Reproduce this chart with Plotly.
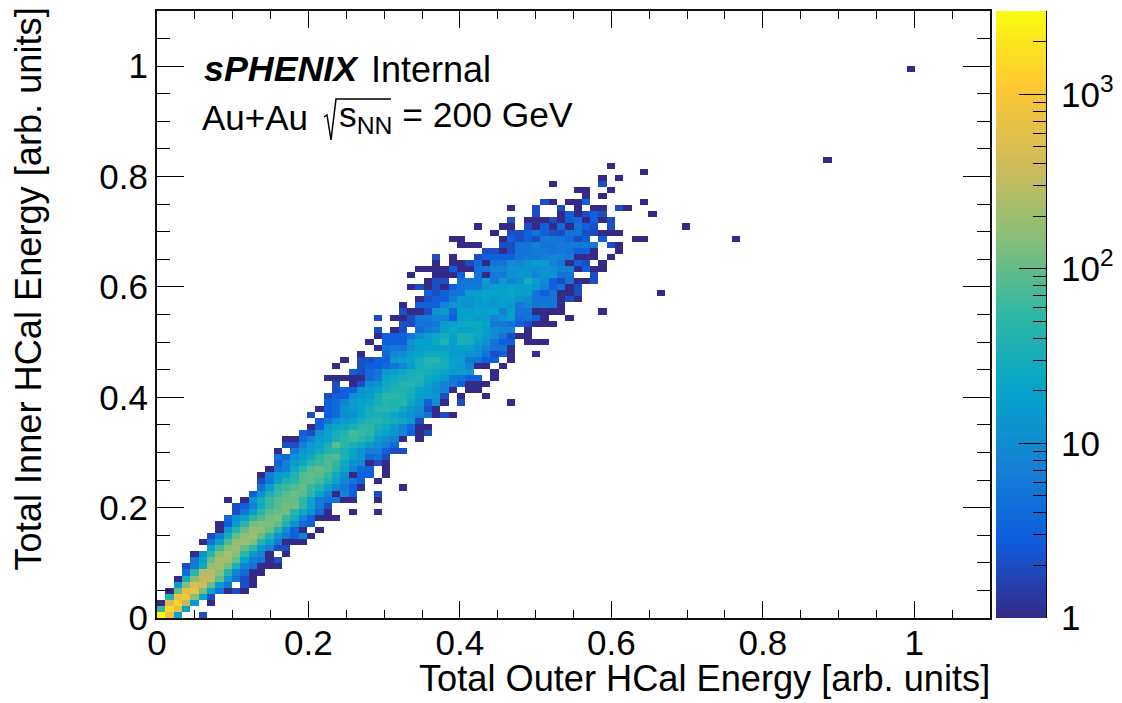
import math
import numpy as np
import plotly.graph_objects as go

# 100 x 100 bins on [0, 1.1] x [0, 1.1]
n_bins = 100
axis_max = 1.1
count_max = 3000

# y-bin index -> (first x-bin index, counts in consecutive x-bins; 0 = empty)
row_cells = {
 0: (0, [3000,700,20,0,0,2]),
 1: (0, [60,1500,600,18]),
 2: (0, [1,500,1300,300,15,0,1]),
 3: (1, [40,800,900,150,20,2]),
 4: (1, [1,100,600,700,120,20,5,1,2,1]),
 5: (2, [15,150,500,400,100,15,5,0,2,1]),
 6: (2, [1,30,150,350,300,100,15,5,2,1]),
 7: (3, [4,50,250,300,150,40,8,4,1,1]),
 8: (3, [2,6,25,170,220,120,35,7,5,1,1,1]),
 9: (4, [5,20,100,220,200,100,20,7,5,1,2]),
 10: (4, [1,12,50,150,250,150,50,15,8,1,0,1]),
 11: (6, [20,70,150,200,100,50,15,7,2,2]),
 12: (5, [1,5,20,80,170,200,130,45,20,6,1,1,1]),
 13: (6, [2,6,30,100,170,200,100,40,12,6,3,7,1]),
 14: (7, [1,14,40,100,170,170,110,40,12,3,1,0,1]),
 15: (7, [1,3,15,50,120,130,130,100,40,12,4,3]),
 16: (8, [4,12,20,50,80,120,130,60,30,8,3,1,1,1]),
 17: (9, [2,5,15,50,90,110,120,50,25,12,4,1,0,0,1,0,0,1]),
 18: (9, [2,3,7,25,60,90,120,110,50,20,6,2]),
 19: (8, [1,0,1,12,30,60,90,100,100,55,20,6,5,5,1,1,0,0,1]),
 20: (11, [3,12,35,60,90,110,90,50,20,8,1,8,3,0,0,2]),
 21: (12, [5,15,50,60,80,100,60,40,20,8,6,3,1,0,0,0,0,1]),
 22: (12, [2,6,18,40,50,85,90,70,40,20,8,5,3,0,1]),
 23: (12, [1,7,15,20,40,85,100,90,60,25,12,1,3,3,0,1]),
 24: (13, [1,5,7,25,50,85,100,80,50,20,8,4,3,0,1]),
 25: (14, [3,7,15,25,45,60,80,60,25,12,10,1,2,1]),
 26: (14, [5,4,12,18,25,50,70,80,40,20,14,4,5,2]),
 27: (14, [1,0,6,14,18,25,40,50,35,22,12,7,7,3,2,2]),
 28: (15, [2,2,7,15,20,35,90,50,35,25,15,10,7,4]),
 29: (15, [1,1,4,8,15,20,35,50,60,50,35,15,10,7,1,0,1]),
 30: (17, [3,2,12,20,30,40,70,60,50,25,20,12,8,3,1,2]),
 31: (18, [1,3,15,22,25,35,50,50,35,25,15,7,4,1,1]),
 32: (19, [3,5,10,15,20,30,40,45,35,30,25,15,2]),
 33: (18, [2,0,3,4,10,12,20,30,35,30,22,15,10,8,5,1,2,1]),
 34: (19, [1,3,4,12,15,20,30,45,45,40,25,14,10,2,1]),
 35: (20, [3,4,8,15,20,22,30,45,40,45,25,14,3,10,1,0,2,0,0,0,0,0,1]),
 36: (20, [2,3,3,10,14,18,30,50,50,40,30,18,15,14,2,0,1,0,0,1]),
 37: (21, [2,3,3,12,15,20,30,40,40,35,20,15,10,8,1,0,1,1]),
 38: (21, [2,0,1,2,10,12,25,30,45,45,35,20,12,8,6,3,1,1,1]),
 39: (20, [1,1,1,1,1,4,6,20,25,30,35,40,25,20,15,6,5,3,3,0,1]),
 40: (23, [3,2,4,5,15,18,25,30,35,30,25,20,18,18,14,0,0,1]),
 41: (21, [1,0,0,2,3,3,4,5,8,15,30,40,35,30,20,15,8,1,1,0,1]),
 42: (22, [1,0,2,2,3,3,14,18,20,30,45,45,30,20,18,6,5,3,3,0,1]),
 43: (24, [1,0,0,4,8,10,18,20,25,25,25,15,15,12,10,5,2,3,1,0,0,1]),
 44: (26, [1,5,6,5,10,18,20,18,18,15,18,18,12,7,5,5,1]),
 45: (25, [1,0,3,3,3,12,20,18,25,40,18,35,30,18,12,5,3,3,0,1,1,1]),
 46: (26, [1,3,3,3,5,10,18,25,30,20,35,30,25,15,10,5,2,1,1]),
 47: (26, [2,0,1,2,0,4,6,8,18,25,18,20,25,18,10,8,8,0,1]),
 48: (29, [2,2,5,5,6,18,18,25,25,25,20,6,6,5,3,2,1,1,1]),
 49: (26, [2,0,1,1,2,5,6,8,7,3,18,20,15,18,8,12,18,4,5,3,1,0,0,1]),
 50: (29, [2,1,1,2,12,14,4,18,18,20,18,20,8,18,5,5,1,1,1,1,0,0,0,0,1]),
 51: (29, [1,0,3,3,3,8,14,14,12,15,15,14,18,14,6,8,5,6,5,1]),
 52: (31, [1,2,3,3,6,14,14,15,20,15,18,18,12,10,5,5,5,1,2,1]),
 53: (32, [3,2,3,5,5,15,18,20,20,20,22,18,18,5,3,5,1,1,2,0,0,0,0,0,0,0,0,0,1]),
 54: (30, [1,2,1,2,1,3,5,6,6,12,18,18,20,18,18,14,8,3,5,1,2]),
 55: (32, [1,2,2,0,5,5,5,15,6,15,8,12,30,15,10,3,2,5,1,1,2]),
 56: (30, [1,0,0,1,1,1,3,0,5,1,6,6,12,14,14,8,12,12,5,5,0,0,2]),
 57: (31, [1,1,1,1,3,1,1,5,5,8,8,12,12,12,10,12,10,8,7,1,3,1,1]),
 58: (33, [1,0,1,1,2,4,1,5,5,10,8,12,15,15,8,5,1,3,2,0,1]),
 59: (33, [2,0,1,0,0,2,3,3,3,3,5,6,6,7,8,8,6,1,1,1,0,1]),
 60: (39, [2,2,1,2,5,5,6,6,5,6,5,3,3,1,0,0,1]),
 61: (36, [1,1,1,0,0,2,2,5,5,7,5,5,6,6,6,6,6,0,2,1]),
 62: (35, [1,1,0,0,0,0,1,3,2,3,2,6,6,5,4,2,3,0,3,0,0,0,1,1,0,0,0,0,0,0,0,0,0,0,1]),
 63: (40, [1,0,2,2,3,5,3,2,2,5,5,2,2,1,1,1]),
 64: (38, [1,0,0,1,1,0,2,1,3,1,4,1,5,3,2,0,2,0,0,0,0,0,0,0,0,1]),
 65: (42, [2,0,1,1,1,2,1,3,4,1,3,1,2]),
 66: (45, [2,0,0,1,3,1,2,3,2,0,0,0,0,0,1]),
 67: (42, [1,0,0,2,0,0,2,0,1,0,1,1,0,2,1]),
 68: (46, [2,1,0,1,1,3,0,0,0,0,0,0,1]),
 69: (51, [1,0,1]),
 70: (50, [1,1,0,0,1]),
 71: (47, [1,0,0,0,0,0,2]),
 72: (53, [1,0,1]),
 73: (58, [1]),
 74: (54, [1]),
 75: (80, [1]),
 90: (90, [1]),
}

axis_ticks = [0, 0.2, 0.4, 0.6, 0.8, 1]
axis_labels = ["0", "0.2", "0.4", "0.6", "0.8", "1"]
axis_minor = [0.05, 0.1, 0.15, 0.25, 0.3, 0.35, 0.45, 0.5, 0.55, 0.65, 0.7, 0.75, 0.85, 0.9, 0.95, 1.05]
scale_major = [1, 10, 100, 1000]
scale_labels = ["1", "10", "10<sup>2</sup>", "10<sup>3</sup>"]
scale_minor = [2,3,4,5,6,7,8,9,20,30,40,50,60,70,80,90,200,300,400,500,600,700,800,900,2000,3000]

x_title = "Total Outer HCal Energy [arb. units]"
y_title = "Total Inner HCal Energy [arb. units]"

# ROOT kBird palette
bird = ["#352a87", "#0f5cdd", "#1481d6", "#06a4ca", "#2eb7a4",
        "#87bf77", "#d1bb59", "#fec832", "#f9fb0e"]
colorscale = [[k / 8, c] for k, c in enumerate(bird)]

W, H = 1122, 703
L, R, T, B = 157, 990, 11, 618          # frame in pixels
BAR_L, BAR_R = 996, 1046                # colour bar in pixels
PW, PH = BAR_R - L, B - T
FONT = "Liberation Sans"

def px(v):
    return (v - L) / PW

def py(v):
    return (B - v) / PH

bin_w = axis_max / n_bins
z = [[None] * n_bins for _ in range(n_bins)]
for j, (start, counts) in row_cells.items():
    for k, c in enumerate(counts):
        if c > 0:
            z[j][start + k] = math.log10(c)

zmax = math.log10(count_max)
fig = go.Figure()
fig.add_trace(go.Heatmap(
    z=z, x0=bin_w / 2, dx=bin_w, y0=bin_w / 2, dy=bin_w,
    zmin=0, zmax=zmax, colorscale=colorscale, showscale=False,
    hoverongaps=False, xaxis="x", yaxis="y",
))
levels = np.linspace(0, zmax, 256)
fig.add_trace(go.Heatmap(
    z=[[v] for v in levels], x=[0.5], y=levels,
    zmin=0, zmax=zmax, colorscale=colorscale, showscale=False,
    xaxis="x2", yaxis="y2",
))

tick_font = dict(family=FONT, size=35, color="black")
frame = dict(showline=True, linecolor="#111111", linewidth=2, mirror="allticks",
             showgrid=False, zeroline=False, ticks="inside", tickwidth=1,
             tickcolor="black", tickfont=tick_font, automargin=False)
fig.update_layout(
    width=W, height=H, paper_bgcolor="white", plot_bgcolor="white",
    margin=dict(l=L, r=W - BAR_R, t=T, b=H - B, autoexpand=False), showlegend=False,
    xaxis=dict(frame, domain=[0, (R - L) / PW], range=[0, axis_max], anchor="y",
               tickvals=axis_ticks, ticktext=axis_labels, ticklen=17, ticklabelstandoff=-7,
               minor=dict(tickvals=axis_minor, ticks="inside", ticklen=8,
                          tickcolor="black", tickwidth=1, showgrid=False)),
    yaxis=dict(frame, domain=[0, 1], range=[0, axis_max], anchor="x",
               tickvals=axis_ticks, ticktext=axis_labels, ticklen=27,
               minor=dict(tickvals=axis_minor, ticks="inside", ticklen=13,
                          tickcolor="black", tickwidth=1, showgrid=False)),
    xaxis2=dict(domain=[(BAR_L - L) / PW, 1], range=[0, 1], anchor="y2",
                showticklabels=False, ticks="", showgrid=False, zeroline=False, showline=False),
    yaxis2=dict(domain=[0, 1], range=[0, zmax], anchor="x2", side="right", automargin=False,
                showline=True, linecolor="black", linewidth=1, showgrid=False, zeroline=False,
                ticks="inside", ticklen=27, tickwidth=1, tickcolor="black",
                tickvals=[math.log10(v) for v in scale_major], ticktext=scale_labels,
                tickfont=tick_font, ticklabelstandoff=7,
                minor=dict(tickvals=[math.log10(v) for v in scale_minor], ticks="inside",
                           ticklen=13, tickcolor="black", tickwidth=1, showgrid=False)),
)

def note(text, x, y, size, xanchor="left", yanchor="middle", angle=0):
    fig.add_annotation(text=text, xref="paper", yref="paper", x=px(x), y=py(y),
                       xanchor=xanchor, yanchor=yanchor, showarrow=False, textangle=angle,
                       font=dict(family=FONT, size=size, color="black"))

note(x_title, 992, 678, 36.2, xanchor="right")
note(y_title, 28, 6, 36.2, xanchor="center", yanchor="top", angle=-90)
note("<b><i>sPHENIX</i></b>", 202, 69, 35.8)
note("Internal", 369, 69, 36)
note("Au+Au", 200, 117, 35)
note("s<sub>NN</sub> = 200 GeV", 337, 117, 35.4)
root = [(324, 117), (327, 115), (331, 140), (336, 99), (391, 99)]
path = "M " + " L ".join(f"{px(a):.5f} {py(b):.5f}" for a, b in root)
fig.add_shape(type="path", path=path, xref="paper", yref="paper",
              line=dict(color="black", width=1.5))

fig.write_html("out.html", config={"displayModeBar": False},
               post_script="document.body.style.margin='0';")
